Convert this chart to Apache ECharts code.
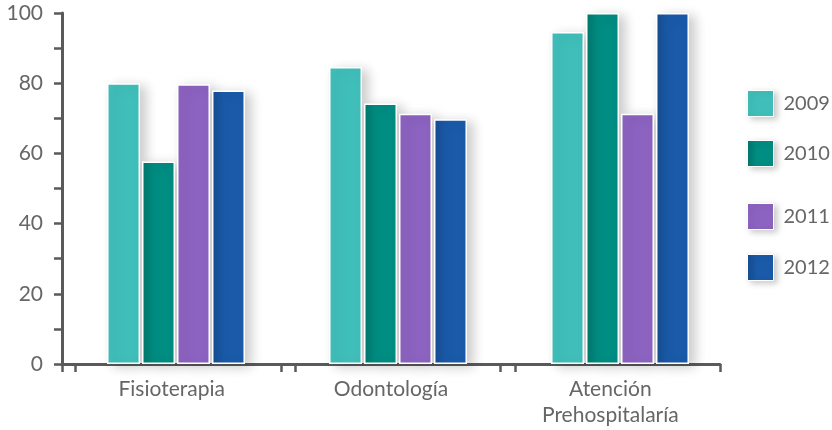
<!DOCTYPE html>
<html>
<head>
<meta charset="utf-8">
<script src="https://cdn.jsdelivr.net/npm/echarts@6/dist/echarts.min.js"></script>
<style>html,body{margin:0;padding:0;background:#fff;}#c{width:832px;height:430px;}</style>
</head>
<body>
<div id="c"></div>
<script>
var categories = ['Fisioterapia', 'Odontología', 'Atención\nPrehospitalaría'];
var seriesNames = ['2009', '2010', '2011', '2012'];
var values2009 = [80, 84.6, 94.6];
var values2010 = [57.7, 74.2, 100];
var values2011 = [79.7, 71.3, 71.3];
var values2012 = [77.9, 69.7, 100];
var yMin = 0, yMax = 100, yStep = 20;

var FONT = 'Lato, "Open Sans", sans-serif';
var AXIS_COLOR = '#5a5a5a';
var TEXT_COLOR = '#666666';

function grad(dark, base) {
  return new echarts.graphic.LinearGradient(0, 0, 1, 0, [
    {offset: 0, color: dark}, {offset: 0.35, color: base}, {offset: 1, color: base}
  ]);
}
var colors = ['#40bfba', grad('#00766c', '#008d82'), '#8c63c1', grad('#164d92', '#1a5aa8')];
var allValues = [values2009, values2010, values2011, values2012];

var chart = echarts.init(document.getElementById('c'), null, {renderer: 'canvas'});

var legendTops = [90, 140, 203, 254];
var legends = seriesNames.map(function (n, i) {
  return {
    data: [n], left: 747, top: legendTops[i], orient: 'vertical', padding: 0,
    itemWidth: 26, itemHeight: 26, icon: 'rect',
    textStyle: {fontFamily: FONT, fontSize: 20, color: TEXT_COLOR, padding: [0, 0, 0, 5]},
    itemStyle: {borderColor: '#fff', borderWidth: 1, shadowBlur: 6, shadowColor: 'rgba(0,0,0,0.2)', shadowOffsetX: 3, shadowOffsetY: 2}
  };
});

var option = {
  backgroundColor: '#fff',
  animation: false,
  legend: legends,
  grid: [
    {left: 62, top: 13, width: 658, bottom: 66},
    {left: 65, top: 13, width: 666, bottom: 66},
    {left: 75, top: 13, width: 440, bottom: 66}
  ],
  xAxis: [
    {
      gridIndex: 0, type: 'category', data: categories,
      axisLine: {lineStyle: {color: AXIS_COLOR, width: 3}},
      axisTick: {show: true, length: 8, lineStyle: {color: AXIS_COLOR, width: 2.5}},
      axisLabel: {fontFamily: FONT, fontSize: 21, color: TEXT_COLOR, margin: 12, lineHeight: 26}
    },
    {
      gridIndex: 1, type: 'category', data: categories,
      axisLine: {show: false}, axisTick: {show: false}, axisLabel: {show: false}
    },
    {
      gridIndex: 2, type: 'value', min: 0, max: 2, interval: 1,
      axisLine: {show: false}, splitLine: {show: false}, axisLabel: {show: false},
      axisTick: {show: true, length: 8, lineStyle: {color: AXIS_COLOR, width: 2.5}}
    }
  ],
  yAxis: [
    {
      gridIndex: 0, type: 'value', min: yMin, max: yMax, interval: yStep,
      axisLine: {show: true, lineStyle: {color: AXIS_COLOR, width: 3}},
      axisTick: {show: true, length: 8, lineStyle: {color: AXIS_COLOR, width: 2.5}},
      minorTick: {show: true, splitNumber: 2, length: 8, lineStyle: {color: AXIS_COLOR, width: 2.5}},
      splitLine: {show: false},
      axisLabel: {fontFamily: FONT, fontSize: 21, color: TEXT_COLOR, margin: 19}
    },
    {
      gridIndex: 1, type: 'value', min: yMin, max: yMax, interval: yStep,
      axisLine: {show: false}, axisTick: {show: false}, splitLine: {show: false}, axisLabel: {show: false}
    },
    {
      gridIndex: 2, type: 'value', min: yMin, max: yMax,
      axisLine: {show: false}, axisTick: {show: false}, splitLine: {show: false}, axisLabel: {show: false}
    }
  ],
  series: seriesNames.map(function (n, i) {
    return {
      name: n, type: 'bar', xAxisIndex: 1, yAxisIndex: 1,
      data: allValues[i], barWidth: 33, barGap: '6%',
      itemStyle: {
        color: colors[i], borderColor: '#ffffff', borderWidth: 1.5,
        shadowColor: 'rgba(0,0,0,0.2)', shadowBlur: 12, shadowOffsetX: 6, shadowOffsetY: 3
      }
    };
  })
};
chart.setOption(option);
</script>
</body>
</html>
